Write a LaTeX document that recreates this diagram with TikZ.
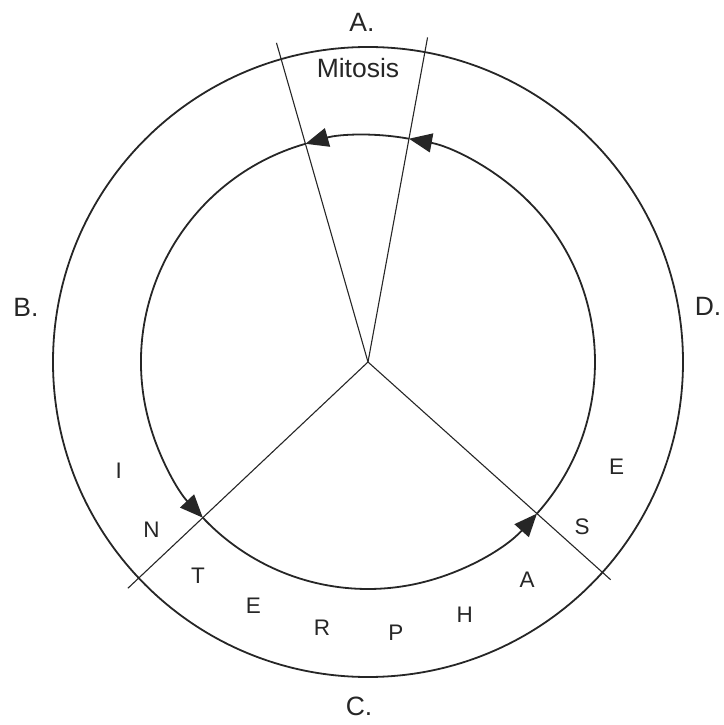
\documentclass[tikz,border=0pt]{standalone}
\usepackage{fontspec}
\setmainfont{Liberation Sans}
\usetikzlibrary{arrows.meta}

\begin{document}
\begin{tikzpicture}[x=1pt, y=1pt,
    ring/.style={line width=1.8pt, draw=black!85},
    spoke/.style={line width=1.1pt, draw=black!85},
    cyclearc/.style={line width=1.8pt, draw=black!85,
      -{Triangle[length=23pt, width=19pt]}},
    phase/.style={font=\fontsize{26.5}{30}\selectfont, text=black!85},
    letter/.style={font=\fontsize{22.5}{26}\selectfont, text=black!85}]
  \useasboundingbox (-368,-363) rectangle (355,362);
  \coordinate (c) at (0,0);
  % outer ring
  \draw[ring] (c) circle[radius=315];
  % spokes
  \coordinate (endA) at (106:332);
  \coordinate (endD) at (79.6:330);
  \coordinate (endB) at (223.3:330);
  \coordinate (endC) at (-41.9:326);
  \draw[spoke] (c) -- (endA);
  \draw[spoke] (c) -- (endD);
  \draw[spoke] (c) -- (endB);
  \draw[spoke] (c) -- (endC);
  % inner ring, arrows running anticlockwise
  \coordinate (tipA) at (106:227);
  \coordinate (tipD) at (79.6:227);
  \coordinate (tipB) at (223.3:227);
  \coordinate (tipC) at (318.1:227);
  \draw[cyclearc] (tipD) arc[start angle=79.6, end angle=106, radius=227];
  \draw[cyclearc] (tipA) arc[start angle=106, end angle=223.3, radius=227];
  \draw[cyclearc] (tipB) arc[start angle=223.3, end angle=318.1, radius=227];
  \draw[cyclearc] (tipC) arc[start angle=318.1, end angle=439.6, radius=227];
  % labels
  \node[phase] (labA) at (-6,340) {A.};
  \node[phase] (mitosis) at (-10,294) {Mitosis};
  \node[phase] (labB) at (-342,55) {B.};
  \node[phase] (labD) at (340,56) {D.};
  \node[phase] (labC) at (-9,-344) {C.};
  \foreach \ch/\ang/\rad [count=\i] in {I/203.6/272, N/217.8/274, T/231.5/273,
      E/244.8/269, R/260.2/270, P/275.9/272, H/290.9/271, A/306.1/270,
      S/322.5/270, E/337.1/270}
    \node[letter] (inter\i) at (\ang:\rad) {\ch};
\end{tikzpicture}
\end{document}
